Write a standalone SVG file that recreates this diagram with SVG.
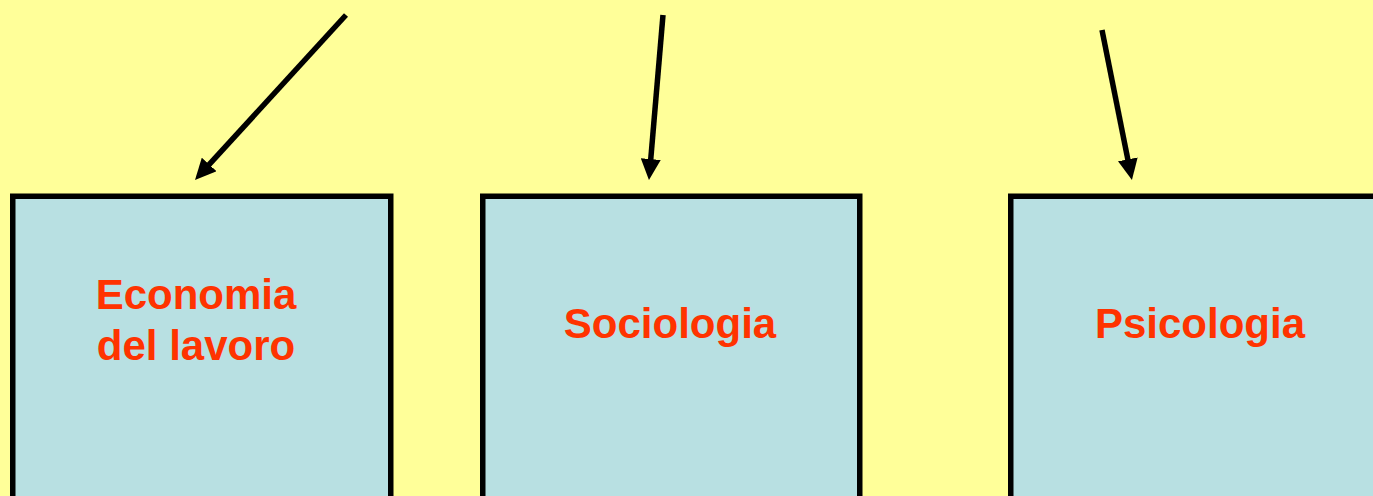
<svg xmlns="http://www.w3.org/2000/svg" width="1373" height="496" viewBox="0 0 1373 496">
<style>
.box{fill:#B8E0E2;stroke:#000;stroke-width:5.5}
.lbl{font-family:"Liberation Sans",Arial,sans-serif;font-weight:bold;font-size:42px;fill:#FF3300;text-anchor:middle}
.conn{stroke:#000;stroke-width:5.5;fill:none;marker-end:url(#ah)}
</style>
<defs>
<marker id="ah" markerUnits="userSpaceOnUse" markerWidth="21" markerHeight="20" refX="9" refY="10" orient="auto" viewBox="0 0 21 20">
<path d="M0,0 L21,10 L0,20 z" fill="#000"/>
</marker>
</defs>
<rect width="1373" height="496" fill="#FFFF99"/>
<g id="connectors">
<line class="conn" x1="346" y1="15" x2="203.1" y2="171.1"/>
<line class="conn" x1="663" y1="15" x2="650" y2="168"/>
<line class="conn" x1="1102" y1="30" x2="1129.6" y2="168.2"/>
</g>
<g id="economia">
<rect class="box" x="12.75" y="196.25" width="378" height="400"/>
<text class="lbl" x="196" y="309">Economia</text>
<text class="lbl" x="196" y="360">del lavoro</text>
</g>
<g id="sociologia">
<rect class="box" x="482.75" y="196.25" width="377" height="400"/>
<text class="lbl" x="670" y="338">Sociologia</text>
</g>
<g id="psicologia">
<rect class="box" x="1010.75" y="196.25" width="400" height="400"/>
<text class="lbl" x="1200" y="338">Psicologia</text>
</g>
</svg>
